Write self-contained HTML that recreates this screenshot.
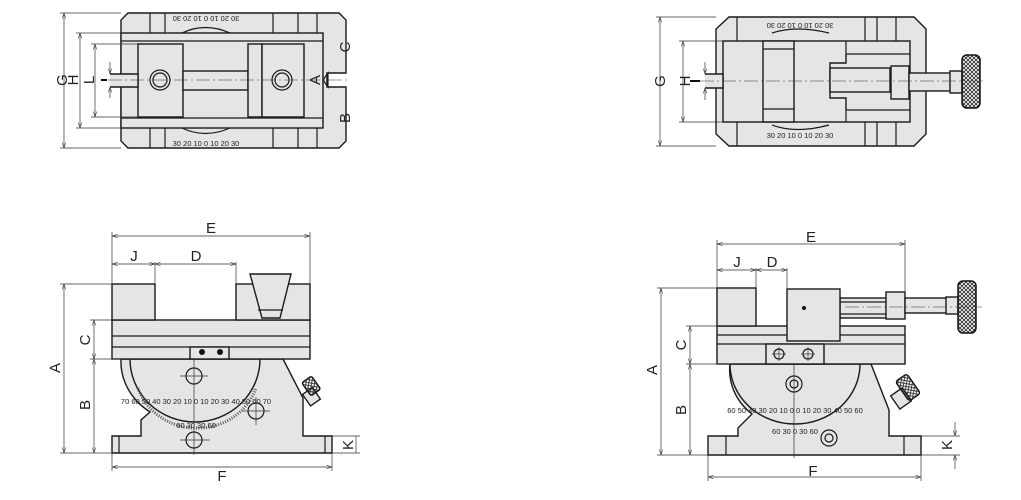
<!DOCTYPE html>
<html><head><meta charset="utf-8"><style>
html,body{margin:0;padding:0;background:#fff;width:1021px;height:500px;overflow:hidden}
svg{display:block}
text{font-family:"Liberation Sans",sans-serif;fill:#222}
.b{fill:#e5e5e5;stroke:#1a1a1a;stroke-width:1.4}
.n{fill:none;stroke:#1a1a1a;stroke-width:1.2}
.d{fill:none;stroke:#333;stroke-width:0.7}
.c{fill:none;stroke:#333;stroke-width:0.6;stroke-dasharray:14 3 2 3}
.L{font-size:15px}
.s{font-size:7.5px}
</style></head><body>
<svg width="1021" height="500" viewBox="0 0 1021 500">
<defs>
<marker id="a" viewBox="0 0 8 6" refX="8" refY="3" markerWidth="8" markerHeight="6" orient="auto-start-reverse"><path d="M0,0.5 L8,3 L0,5.5" fill="none" stroke="#333" stroke-width="0.8"/></marker>
<pattern id="k" width="4" height="4" patternUnits="userSpaceOnUse"><path d="M0,0 L4,4 M4,0 L0,4" stroke="#222" stroke-width="0.8"/></pattern>
</defs>

<!-- ===== TOP LEFT ===== -->
<path class="b" d="M128,13 L339,13 L346,20 L346,73 L327,73 L327,87 L346,87 L346,141 L339,148 L128,148 L121,141 L121,87 L121,73 L121,20 Z"/>
<rect class="b" x="121" y="33" width="202" height="95"/>
<line class="n" x1="121" y1="41" x2="323" y2="41"/><line class="n" x1="121" y1="118" x2="323" y2="118"/>
<g class="n"><line x1="150" y1="13" x2="150" y2="33"/><line x1="165" y1="13" x2="165" y2="33"/><line x1="273" y1="13" x2="273" y2="33"/><line x1="298" y1="13" x2="298" y2="33"/><line x1="317" y1="13" x2="317" y2="33"/>
<line x1="150" y1="128" x2="150" y2="148"/><line x1="165" y1="128" x2="165" y2="148"/><line x1="273" y1="128" x2="273" y2="148"/><line x1="298" y1="128" x2="298" y2="148"/><line x1="317" y1="128" x2="317" y2="148"/></g>
<rect class="b" x="138" y="44" width="45" height="73"/>
<rect class="b" x="183" y="71" width="65" height="19"/>
<rect class="b" x="248" y="44" width="14" height="73"/>
<rect class="b" x="262" y="44" width="42" height="73"/>
<path class="b" d="M110,74 L138,74 L138,87 L110,87"/>
<circle class="n" cx="160" cy="80" r="10" stroke-width="2"/><circle class="n" cx="160" cy="80" r="7"/>
<circle class="n" cx="282" cy="80" r="10" stroke-width="2"/><circle class="n" cx="282" cy="80" r="7"/>
<path class="n" d="M323,80 L328,73 L328,87 Z"/>
<line class="c" x1="108" y1="80" x2="350" y2="80"/>
<path class="n" d="M182,33 Q205,22 230,33"/><path class="n" d="M182,128 Q205,139 230,128"/>
<text class="s" x="206" y="22" text-anchor="middle" transform="rotate(180 206 19)">30 20 10 0 10 20 30</text>
<text class="s" x="206" y="146" text-anchor="middle">30 20 10 0 10 20 30</text>
<g class="d"><line x1="64" y1="13" x2="64" y2="148" marker-start="url(#a)" marker-end="url(#a)"/><line x1="60" y1="13" x2="121" y2="13"/><line x1="60" y1="148" x2="121" y2="148"/>
<line x1="80" y1="33" x2="80" y2="128" marker-start="url(#a)" marker-end="url(#a)"/><line x1="76" y1="33" x2="121" y2="33"/><line x1="76" y1="128" x2="121" y2="128"/>
<line x1="95" y1="44" x2="95" y2="117" marker-start="url(#a)" marker-end="url(#a)"/><line x1="91" y1="44" x2="138" y2="44"/><line x1="91" y1="117" x2="138" y2="117"/>
<line x1="110" y1="62" x2="110" y2="74" marker-end="url(#a)"/><line x1="110" y1="98" x2="110" y2="87" marker-end="url(#a)"/></g>
<line x1="101" y1="80" x2="107" y2="80" stroke="#111" stroke-width="2"/>
<text class="L" transform="translate(67,80) rotate(-90)" text-anchor="middle">G</text>
<text class="L" transform="translate(78,80) rotate(-90)" text-anchor="middle">H</text>
<text class="L" transform="translate(94,80) rotate(-90)" text-anchor="middle">L</text>
<text class="L" transform="translate(350,47) rotate(-90)" text-anchor="middle">C</text>
<text class="L" transform="translate(320,80) rotate(-90)" text-anchor="middle">A</text>
<text class="L" transform="translate(350,118) rotate(-90)" text-anchor="middle">B</text>

<!-- ===== TOP RIGHT ===== -->
<path class="b" d="M729,17 L914,17 L926,29 L926,134 L914,146 L729,146 L716,134 L716,29 Z"/>
<g class="n"><line x1="737" y1="17" x2="737" y2="146"/><line x1="865" y1="17" x2="865" y2="146"/><line x1="877" y1="17" x2="877" y2="146"/><line x1="896" y1="17" x2="896" y2="146"/></g>
<rect class="b" x="723" y="41" width="187" height="81"/>
<rect class="b" x="763" y="41" width="31" height="81"/>
<line class="n" x1="763" y1="49" x2="794" y2="49"/><line class="n" x1="763" y1="109" x2="794" y2="109"/>
<path class="n" d="M846,41 L846,54 L910,54 M846,122 L846,110 L910,110"/>
<path class="b" d="M846,54 L846,63 L830,63 L830,98 L846,98 L846,110"/>
<rect class="b" x="830" y="68" width="60" height="24"/>
<rect class="b" x="891" y="66" width="18" height="33"/>
<rect class="b" x="909" y="73" width="45" height="18"/>
<rect class="b" x="950" y="71" width="12" height="22"/>
<rect x="962" y="55" width="18" height="53" rx="5" fill="url(#k)" stroke="#111" stroke-width="1.5"/>
<path class="b" d="M705,74 L723,74 L723,88 L705,88"/>
<line class="c" x1="700" y1="81" x2="985" y2="81"/>
<path class="n" d="M772,33 Q796,25 829,33"/><path class="n" d="M772,125 Q796,134 829,125"/>
<text class="s" x="800" y="29" text-anchor="middle" transform="rotate(180 800 26)">30 20 10 0 10 20 30</text>
<text class="s" x="800" y="138" text-anchor="middle">30 20 10 0 10 20 30</text>
<g class="d"><line x1="660" y1="17" x2="660" y2="146" marker-start="url(#a)" marker-end="url(#a)"/><line x1="656" y1="17" x2="716" y2="17"/><line x1="656" y1="146" x2="716" y2="146"/>
<line x1="683" y1="41" x2="683" y2="122" marker-start="url(#a)" marker-end="url(#a)"/><line x1="679" y1="41" x2="723" y2="41"/><line x1="679" y1="122" x2="723" y2="122"/>
<line x1="705" y1="62" x2="705" y2="74" marker-end="url(#a)"/><line x1="705" y1="100" x2="705" y2="88" marker-end="url(#a)"/></g>
<line x1="690" y1="81" x2="700" y2="81" stroke="#111" stroke-width="2"/>
<text class="L" transform="translate(665,81) rotate(-90)" text-anchor="middle">G</text>
<text class="L" transform="translate(690,81) rotate(-90)" text-anchor="middle">H</text>

<!-- ===== BOTTOM LEFT ===== -->
<path class="b" d="M112,436 L141,436 L141,420 L150,412 A70,62 0 0 1 121,359 L283,359 L303,398 L303,436 L332,436 L332,453 L112,453 Z"/>
<line class="n" x1="119" y1="436" x2="119" y2="453"/><line class="n" x1="325" y1="436" x2="325" y2="453"/>
<path class="b" d="M130,359 A65,63 0 0 0 260,359 Z"/>
<path d="M138,388 A62,58 0 0 0 256,388" fill="none" stroke="#555" stroke-width="3" stroke-dasharray="1 1.5"/>
<text class="s" x="196" y="404" text-anchor="middle">70 60 50 40 30 20 10 0 10 20 30 40 50 60 70</text>
<text class="s" x="196" y="428" text-anchor="middle">60  30      30  60</text>
<circle class="n" cx="194" cy="376" r="8" stroke-width="2"/><circle class="n" cx="256" cy="411" r="8" stroke-width="2"/><circle class="n" cx="194" cy="440" r="8" stroke-width="2"/>
<g class="d"><line x1="180" y1="376" x2="208" y2="376"/><line x1="242" y1="411" x2="270" y2="411"/><line x1="256" y1="397" x2="256" y2="425"/><line x1="180" y1="440" x2="210" y2="440"/><line x1="194" y1="360" x2="194" y2="455"/></g>
<g transform="translate(313,392) rotate(-35)"><rect class="b" x="-10" y="-4" width="12" height="14"/><rect x="-4" y="-14" width="12" height="16" fill="url(#k)" stroke="#111" stroke-width="1.3" rx="2"/></g>
<rect class="b" x="112" y="320" width="198" height="39"/>
<line class="n" x1="112" y1="336" x2="310" y2="336"/><line class="n" x1="112" y1="347" x2="310" y2="347"/>
<rect class="b" x="190" y="347" width="39" height="12"/>
<circle cx="202" cy="352" r="3" fill="#111"/><circle cx="220" cy="352" r="3" fill="#111"/>
<rect class="b" x="112" y="284" width="43" height="36"/>
<rect class="b" x="236" y="284" width="74" height="36"/>
<path class="b" d="M250,274 L291,274 L280,318 L262,318 Z"/><line class="n" x1="258" y1="310" x2="283" y2="310"/>
<g class="d"><line x1="112" y1="236" x2="310" y2="236" marker-start="url(#a)" marker-end="url(#a)"/><line x1="112" y1="232" x2="112" y2="284"/><line x1="310" y1="232" x2="310" y2="284"/>
<line x1="112" y1="264" x2="155" y2="264" marker-start="url(#a)" marker-end="url(#a)"/><line x1="155" y1="264" x2="236" y2="264" marker-start="url(#a)" marker-end="url(#a)"/><line x1="155" y1="262" x2="155" y2="284"/><line x1="236" y1="262" x2="236" y2="284"/>
<line x1="64" y1="284" x2="64" y2="453" marker-start="url(#a)" marker-end="url(#a)"/><line x1="60" y1="284" x2="112" y2="284"/><line x1="60" y1="453" x2="112" y2="453"/>
<line x1="94" y1="320" x2="94" y2="359" marker-start="url(#a)" marker-end="url(#a)"/><line x1="94" y1="359" x2="94" y2="453" marker-start="url(#a)" marker-end="url(#a)"/><line x1="90" y1="320" x2="112" y2="320"/><line x1="90" y1="359" x2="121" y2="359"/>
<line x1="356" y1="436" x2="356" y2="453"/><line x1="332" y1="436" x2="360" y2="436"/><line x1="332" y1="453" x2="360" y2="453"/>
<line x1="112" y1="467" x2="332" y2="467" marker-start="url(#a)" marker-end="url(#a)"/><line x1="112" y1="453" x2="112" y2="471"/><line x1="332" y1="453" x2="332" y2="471"/></g>
<text class="L" x="211" y="233" text-anchor="middle">E</text>
<text class="L" x="134" y="261" text-anchor="middle">J</text>
<text class="L" x="196" y="261" text-anchor="middle">D</text>
<text class="L" x="222" y="481" text-anchor="middle">F</text>
<text class="L" transform="translate(64,368) rotate(-90)" text-anchor="middle" dy="-4">A</text>
<text class="L" transform="translate(94,340) rotate(-90)" text-anchor="middle" dy="-4">C</text>
<text class="L" transform="translate(94,405) rotate(-90)" text-anchor="middle" dy="-4">B</text>
<text class="L" transform="translate(356,445) rotate(-90)" text-anchor="middle" dy="-3">K</text>

<!-- ===== BOTTOM RIGHT ===== -->
<path class="b" d="M708,436 L738,436 L738,428 L752,414 A65,58 0 0 1 730,364 L871,364 L889,410 L889,436 L921,436 L921,455 L708,455 Z"/>
<line class="n" x1="726" y1="436" x2="726" y2="455"/><line class="n" x1="904" y1="436" x2="904" y2="455"/>
<path class="b" d="M730,364 A65,60 0 0 0 860,364 Z"/>
<text class="s" x="795" y="413" text-anchor="middle">60 50 40 30 20 10 0 0 10 20 30 40 50 60</text>
<text class="s" x="795" y="434" text-anchor="middle">60  30  0   30  60</text>
<circle class="n" cx="794" cy="384" r="8" stroke-width="2"/><circle class="n" cx="794" cy="384" r="4"/>
<circle class="n" cx="829" cy="438" r="8" stroke-width="2"/><circle class="n" cx="829" cy="438" r="4"/>
<line class="d" x1="794" y1="357" x2="794" y2="458"/>
<g transform="translate(905,392) rotate(-35)"><rect class="b" x="-14" y="-5" width="14" height="16"/><rect x="-2" y="-14" width="14" height="24" fill="url(#k)" stroke="#111" stroke-width="1.3" rx="3"/></g>
<rect class="b" x="717" y="326" width="188" height="38"/>
<line class="n" x1="717" y1="335" x2="905" y2="335"/><line class="n" x1="717" y1="344" x2="905" y2="344"/>
<rect class="b" x="766" y="344" width="58" height="20"/>
<circle class="n" cx="779" cy="354" r="5"/><circle class="n" cx="808" cy="354" r="5"/>
<g class="d"><line x1="772" y1="354" x2="786" y2="354"/><line x1="779" y1="347" x2="779" y2="361"/><line x1="801" y1="354" x2="815" y2="354"/><line x1="808" y1="347" x2="808" y2="361"/></g>
<rect class="b" x="717" y="288" width="39" height="38"/>
<rect class="b" x="840" y="298" width="50" height="20"/><line class="n" x1="840" y1="302" x2="890" y2="302"/><line class="n" x1="840" y1="314" x2="890" y2="314"/>
<rect class="b" x="886" y="292" width="19" height="27"/>
<rect class="b" x="905" y="298" width="46" height="15"/>
<rect class="b" x="946" y="297" width="12" height="17"/>
<rect x="958" y="281" width="18" height="52" rx="5" fill="url(#k)" stroke="#111" stroke-width="1.5"/>
<line class="c" x1="845" y1="307" x2="982" y2="307"/>
<rect class="b" x="787" y="289" width="53" height="52"/>
<circle cx="804" cy="308" r="2" fill="#111"/>
<g class="d"><line x1="717" y1="244" x2="905" y2="244" marker-start="url(#a)" marker-end="url(#a)"/><line x1="717" y1="240" x2="717" y2="288"/><line x1="905" y1="240" x2="905" y2="292"/>
<line x1="717" y1="270" x2="756" y2="270" marker-start="url(#a)" marker-end="url(#a)"/><line x1="756" y1="270" x2="787" y2="270" marker-start="url(#a)" marker-end="url(#a)"/><line x1="756" y1="268" x2="756" y2="288"/><line x1="787" y1="268" x2="787" y2="289"/>
<line x1="661" y1="288" x2="661" y2="455" marker-start="url(#a)" marker-end="url(#a)"/><line x1="657" y1="288" x2="717" y2="288"/><line x1="657" y1="455" x2="708" y2="455"/>
<line x1="690" y1="326" x2="690" y2="364" marker-start="url(#a)" marker-end="url(#a)"/><line x1="690" y1="364" x2="690" y2="455" marker-start="url(#a)" marker-end="url(#a)"/><line x1="686" y1="326" x2="717" y2="326"/><line x1="686" y1="364" x2="730" y2="364"/>
<line x1="955" y1="422" x2="955" y2="436" marker-end="url(#a)"/><line x1="955" y1="469" x2="955" y2="455" marker-end="url(#a)"/><line x1="921" y1="436" x2="960" y2="436"/><line x1="921" y1="455" x2="960" y2="455"/>
<line x1="708" y1="477" x2="921" y2="477" marker-start="url(#a)" marker-end="url(#a)"/><line x1="708" y1="455" x2="708" y2="481"/><line x1="921" y1="455" x2="921" y2="481"/></g>
<text class="L" x="811" y="242" text-anchor="middle">E</text>
<text class="L" x="737" y="267" text-anchor="middle">J</text>
<text class="L" x="772" y="267" text-anchor="middle">D</text>
<text class="L" x="813" y="476" text-anchor="middle">F</text>
<text class="L" transform="translate(661,370) rotate(-90)" text-anchor="middle" dy="-4">A</text>
<text class="L" transform="translate(690,345) rotate(-90)" text-anchor="middle" dy="-4">C</text>
<text class="L" transform="translate(690,410) rotate(-90)" text-anchor="middle" dy="-4">B</text>
<text class="L" transform="translate(955,445) rotate(-90)" text-anchor="middle" dy="-3">K</text>
</svg>
</body></html>
